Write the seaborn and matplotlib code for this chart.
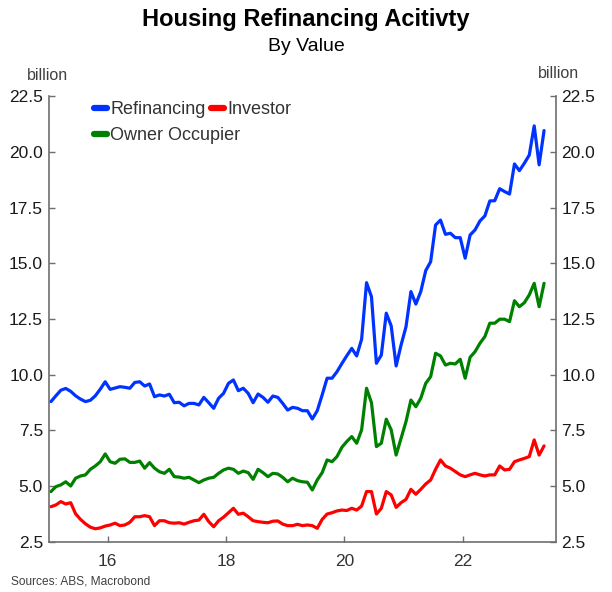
import numpy as np
import pandas as pd
import matplotlib
matplotlib.use("Agg")
import matplotlib.pyplot as plt
from matplotlib.lines import Line2D
from matplotlib.ticker import FormatStrFormatter
import seaborn as sns

# monatliche Werte, Jan 2015 - Mai 2023 (Mrd.)
refinancing = [
    8.79, 9.05, 9.30, 9.38, 9.25, 9.05, 8.90, 8.79, 8.85, 9.05,
    9.35, 9.68, 9.34, 9.40, 9.46, 9.43, 9.39, 9.65, 9.68, 9.49,
    9.58, 9.01, 9.09, 9.04, 9.12, 8.74, 8.76, 8.60, 8.71, 8.71,
    8.64, 8.98, 8.74, 8.49, 8.94, 9.16, 9.61, 9.76, 9.28, 9.39,
    9.16, 8.74, 9.13, 8.98, 8.76, 9.04, 8.98, 8.71, 8.41, 8.53,
    8.49, 8.38, 8.38, 8.01, 8.38, 9.09, 9.84, 9.84, 10.13, 10.50,
    10.85, 11.18, 10.84, 11.59, 14.13, 13.50, 10.51, 10.88, 12.76, 12.19,
    10.39, 11.33, 12.15, 13.73, 13.17, 13.73, 14.67, 15.07, 16.72, 16.94,
    16.30, 16.35, 16.15, 16.15, 15.23, 16.27, 16.50, 16.90, 17.13, 17.80,
    17.81, 18.35, 18.22, 18.11, 19.46, 19.16, 19.49, 19.86, 21.17, 19.42,
    20.96,
]
investor = [
    4.07, 4.15, 4.30, 4.19, 4.25, 3.75, 3.50, 3.30, 3.15, 3.08,
    3.12, 3.20, 3.25, 3.33, 3.22, 3.25, 3.37, 3.62, 3.62, 3.67,
    3.62, 3.22, 3.44, 3.44, 3.35, 3.33, 3.35, 3.29, 3.37, 3.44,
    3.47, 3.73, 3.40, 3.17, 3.44, 3.60, 3.80, 4.00, 3.73, 3.78,
    3.62, 3.44, 3.40, 3.37, 3.35, 3.42, 3.43, 3.29, 3.22, 3.22,
    3.28, 3.22, 3.25, 3.22, 3.10, 3.50, 3.74, 3.80, 3.88, 3.92,
    3.90, 4.00, 3.92, 4.10, 4.75, 4.75, 3.74, 4.00, 4.75, 4.60,
    4.04, 4.25, 4.40, 4.85, 4.63, 4.85, 5.09, 5.27, 5.75, 6.17,
    5.90, 5.80, 5.65, 5.50, 5.42, 5.50, 5.57, 5.50, 5.45, 5.50,
    5.50, 5.90, 5.72, 5.75, 6.09, 6.17, 6.24, 6.32, 7.07, 6.39,
    6.80,
]
owner_occupier = [
    4.75, 4.97, 5.05, 5.19, 5.00, 5.35, 5.45, 5.50, 5.75, 5.90,
    6.09, 6.44, 6.09, 6.02, 6.20, 6.22, 6.06, 6.06, 6.12, 5.80,
    6.05, 5.80, 5.64, 5.57, 5.75, 5.42, 5.40, 5.35, 5.39, 5.27,
    5.15, 5.27, 5.35, 5.39, 5.57, 5.72, 5.80, 5.75, 5.57, 5.67,
    5.60, 5.30, 5.75, 5.60, 5.42, 5.57, 5.54, 5.39, 5.19, 5.35,
    5.24, 5.19, 5.17, 4.82, 5.27, 5.60, 6.17, 6.09, 6.32, 6.74,
    7.00, 7.22, 6.92, 7.52, 9.39, 8.74, 6.77, 6.92, 8.00, 7.52,
    6.39, 7.14, 7.89, 8.86, 8.56, 8.94, 9.61, 9.91, 10.96, 10.84,
    10.43, 10.51, 10.48, 10.69, 9.84, 10.78, 11.03, 11.41, 11.71, 12.31,
    12.31, 12.49, 12.49, 12.38, 13.32, 13.05, 13.23, 13.58, 14.10, 13.05,
    14.10,
]
series_names = ["Refinancing", "Investor", "Owner Occupier"]
series_colors = ["#0033FF", "#FF0000", "#008000"]
x_ticks = [2016, 2018, 2020, 2022]
x_tick_labels = ["16", "18", "20", "22"]

n = len(refinancing)
t = 2015.04 + np.arange(n) / 12

df = pd.DataFrame({
    "t": np.tile(t, 3),
    "value": refinancing + investor + owner_occupier,
    "series": np.repeat(series_names, n),
})

sns.set_style("ticks")
plt.rcParams["font.family"] = ["Liberation Sans", "DejaVu Sans"]

fig = plt.figure(figsize=(6.12, 5.92), dpi=100)
ax = fig.add_axes([0.0794, 0.085, 0.8286, 0.7524])

sns.lineplot(data=df, x="t", y="value", hue="series", hue_order=series_names,
             palette=series_colors, linewidth=2.3, legend=False, ax=ax)
for line in ax.get_lines():
    line.set_clip_on(False)

ax.set_xlim(2015.0, 2023.57)
ax.set_ylim(2.5, 22.5)
ax.set_xticks(x_ticks)
ax.set_xticklabels(x_tick_labels)
ax.set_yticks(np.arange(2.5, 22.6, 2.5))
ax.yaxis.set_major_formatter(FormatStrFormatter("%.1f"))
ax.set_xlabel("")
ax.set_ylabel("")

for side in ["left", "right", "bottom"]:
    ax.spines[side].set_visible(True)
    ax.spines[side].set_color("#6e6e6e")
    ax.spines[side].set_linewidth(1.2)
ax.spines["top"].set_visible(False)
ax.tick_params(axis="both", direction="in", length=4, width=1, color="#6e6e6e",
               labelsize=12.5, labelcolor="#1a1a1a")
ax.tick_params(axis="y", right=True, labelright=True, pad=4)
ax.tick_params(axis="x", pad=9, labelcolor="#333333")

# Legende als Fliesstext: Refinancing + Investor in einer Zeile, Owner Occupier darunter
handles = [Line2D([0], [0], color=c, lw=4.5) for c in series_colors]
leg_kw = dict(loc="upper left", frameon=False, fontsize=13, handlelength=0.75,
              handletextpad=0.15, columnspacing=0.3, labelcolor="#333333",
              borderaxespad=0)
leg1 = ax.legend(handles[:2], series_names[:2], ncol=2,
                 bbox_to_anchor=(0.075, 1.005), **leg_kw)
ax.add_artist(leg1)
ax.legend(handles[2:], series_names[2:], bbox_to_anchor=(0.075, 0.947), **leg_kw)

fig.text(0.5, 0.967, "Housing Refinancing Acitivty", ha="center", va="center",
         fontsize=17, fontweight="bold", color="black")
fig.text(0.5, 0.922, "By Value", ha="center", va="center", fontsize=14, color="black")
fig.text(0.078, 0.873, "billion", ha="center", va="center", fontsize=11.5, color="#404040")
fig.text(0.913, 0.875, "billion", ha="center", va="center", fontsize=11.5, color="#404040")
fig.text(0.018, 0.018, "Sources: ABS, Macrobond", ha="left", va="center",
         fontsize=8.6, color="#404040")

fig.savefig("out.png", dpi=100)
